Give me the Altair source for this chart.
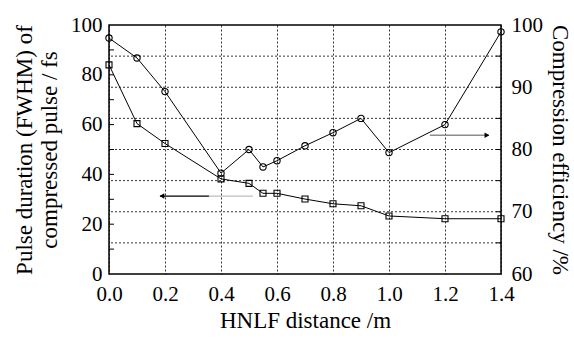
import altair as alt
import pandas as pd

# ---- data ----
dist = [0.0, 0.1, 0.2, 0.4, 0.5, 0.55, 0.6, 0.7, 0.8, 0.9, 1.0, 1.2, 1.4]
pulse = [84.0, 60.4, 52.4, 38.2, 36.4, 32.4, 32.4, 30.1, 28.2, 27.4, 23.3, 22.2, 22.2]
efficiency = [97.9, 94.7, 89.3, 76.2, 80.0, 77.2, 78.2, 80.6, 82.7, 85.0, 79.5, 84.0, 98.9]

x_ticks = [0.0, 0.2, 0.4, 0.6, 0.8, 1.0, 1.2, 1.4]
left_ticks = [0, 20, 40, 60, 80, 100]
left_minor = [10, 20, 30, 40, 50, 60, 70, 80, 90]
right_ticks = [60, 70, 80, 90, 100]
right_grid = [65, 70, 75, 80, 85, 90, 95]
right_minor = [65, 70, 75, 80, 85, 90, 95]

# arrows (annotation positions in data units)
left_arrow_x = [0.182, 0.357, 0.514]
left_arrow_y = 31.3
right_arrow_x = [1.146, 1.357]
right_arrow_y = 82.3

FONT = "'Liberation Serif', 'Times New Roman', serif"

df = pd.DataFrame({"dist": dist, "pulse": pulse, "eff": efficiency})

xscale = alt.Scale(domain=[0, 1.4], nice=False, zero=False)
yl = alt.Scale(domain=[0, 100], nice=False)
yr = alt.Scale(domain=[60, 100], nice=False, zero=False)

common = dict(labelFont=FONT, titleFont=FONT, labelFontSize=21, titleFontSize=23,
              labelColor="black", titleColor="black", titleFontWeight="normal",
              labelFlush=False, labelOverlap=False, domain=False, tickSize=0)

xaxis = alt.Axis(values=x_ticks, format=".1f", title="HNLF distance /m",
                 grid=True, gridDash=[2, 2], gridColor="black", gridWidth=0.8,
                 labelPadding=9, titlePadding=5, **common)

X = alt.X("dist:Q", scale=xscale, axis=xaxis)

# ---------- left layer ----------
left_axis = alt.Axis(values=left_ticks, title=["Pulse duration (FWHM) of", "compressed pulse / fs"],
                     grid=False, labelPadding=7, titlePadding=9, **common)

pulse_line = alt.Chart(df).mark_line(color="black", strokeWidth=1).encode(
    x=X, y=alt.Y("pulse:Q", scale=yl, axis=left_axis))
pulse_pts = alt.Chart(df).mark_point(shape="square", filled=False, color="black",
                                     size=36, strokeWidth=1.1, opacity=1).encode(
    x=alt.X("dist:Q", scale=xscale), y=alt.Y("pulse:Q", scale=yl))

lt = pd.DataFrame({"v": left_minor})
left_tick_marks = alt.Chart(lt).mark_rule(color="black", strokeWidth=1).encode(
    x=alt.value(0), x2=alt.value(5), y=alt.Y("v:Q", scale=yl))

la = pd.DataFrame({"x1": [left_arrow_x[0], left_arrow_x[1]],
                   "x2": [left_arrow_x[1], left_arrow_x[2]],
                   "y": [left_arrow_y, left_arrow_y],
                   "c": ["black", "#bdbdbd"]})
left_arrow_line = alt.Chart(la).mark_rule(strokeWidth=1.2).encode(
    x=alt.X("x1:Q", scale=xscale), x2="x2:Q", y=alt.Y("y:Q", scale=yl),
    color=alt.Color("c:N", scale=None))
left_head = alt.Chart(pd.DataFrame({"x": [left_arrow_x[0]], "y": [left_arrow_y]})).mark_point(
    shape="triangle-left", filled=True, color="black", size=30, opacity=1, xOffset=2).encode(
    x=alt.X("x:Q", scale=xscale), y=alt.Y("y:Q", scale=yl))

left_layer = alt.layer(left_tick_marks, left_arrow_line, left_head, pulse_line, pulse_pts)

# ---------- right layer ----------
right_axis = alt.Axis(values=right_ticks, orient="right", title="Compression efficiency /%",
                      grid=False, labelPadding=10, titlePadding=5, **common)

rg = pd.DataFrame({"v": right_grid})
right_grid_lines = alt.Chart(rg).mark_rule(color="black", strokeWidth=0.8, strokeDash=[2, 2]).encode(
    y=alt.Y("v:Q", scale=yr))

eff_line = alt.Chart(df).mark_line(color="black", strokeWidth=1).encode(
    x=X, y=alt.Y("eff:Q", scale=yr, axis=right_axis))
eff_pts = alt.Chart(df).mark_point(shape="circle", filled=False, color="black",
                                   size=40, strokeWidth=1.1, opacity=1).encode(
    x=alt.X("dist:Q", scale=xscale), y=alt.Y("eff:Q", scale=yr))

rt = pd.DataFrame({"v": right_minor})
right_tick_marks = alt.Chart(rt).mark_rule(color="black", strokeWidth=1).encode(
    x=alt.value(387), x2=alt.value(392), y=alt.Y("v:Q", scale=yr))

ra = pd.DataFrame({"x1": [right_arrow_x[0]], "x2": [right_arrow_x[1]], "y": [right_arrow_y]})
right_arrow_line = alt.Chart(ra).mark_rule(strokeWidth=1.5, color="#8c8c8c").encode(
    x=alt.X("x1:Q", scale=xscale), x2="x2:Q", y=alt.Y("y:Q", scale=yr))
right_head = alt.Chart(pd.DataFrame({"x": [right_arrow_x[1]], "y": [right_arrow_y]})).mark_point(
    shape="triangle-right", filled=True, color="black", size=30, opacity=1, xOffset=-2).encode(
    x=alt.X("x:Q", scale=xscale), y=alt.Y("y:Q", scale=yr))

right_layer = alt.layer(right_grid_lines, right_tick_marks, right_arrow_line, right_head, eff_line, eff_pts)

chart = alt.layer(right_layer, left_layer).resolve_scale(y="independent").properties(
    width=392, height=249,
    autosize=alt.AutoSizeParams(type="none"),
    padding={"left": 109, "top": 25, "right": 73, "bottom": 64},
    background="white",
).configure_view(
    stroke="black", strokeWidth=1.5
).configure_axis(
    labelFont=FONT, titleFont=FONT
)

chart.save("out.html", embed_options={"renderer": "svg", "actions": False})
